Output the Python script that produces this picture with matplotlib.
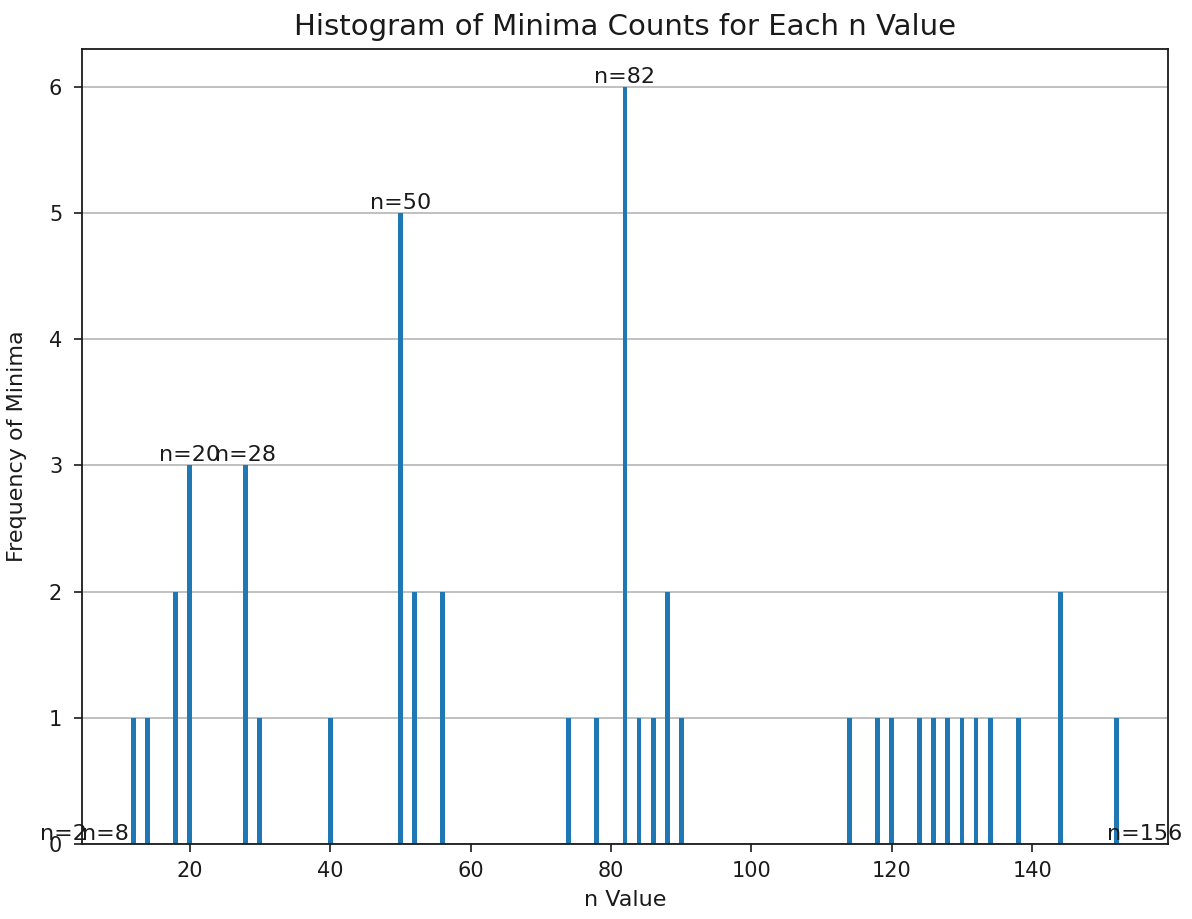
import matplotlib
matplotlib.use("Agg")
import matplotlib.pyplot as plt

# n values at which minima were found, and how many minima each one has
n_values = [12, 14, 18, 20, 28, 30, 40, 50, 52, 56, 74, 78, 82, 84, 86, 88, 90,
            114, 118, 120, 124, 126, 128, 130, 132, 134, 138, 144, 152]
minima_counts = [1, 1, 2, 3, 3, 1, 1, 5, 2, 2, 1, 1, 6, 1, 1, 2, 1,
                 1, 1, 1, 1, 1, 1, 1, 1, 1, 1, 2, 1]

# magic numbers to annotate on the histogram
magic_numbers = [2, 8, 20, 28, 50, 82, 156]

plt.rcParams["font.family"] = ["DejaVu Sans"]

fig = plt.figure(figsize=(11.92, 9.19), dpi=100)
ax = fig.add_axes([0.0685, 0.0816, 0.9116, 0.8651])

ax.bar(n_values, minima_counts, width=0.7, color="#1f77b4", zorder=2)

count_of = dict(zip(n_values, minima_counts))
for n in magic_numbers:
    ax.text(n, count_of.get(n, 0), f"n={n}", ha="center", va="bottom",
            fontsize=16, color="#1a1a1a")

ax.set_title("Histogram of Minima Counts for Each n Value", fontsize=21, pad=10,
             color="#1a1a1a")
ax.set_xlabel("n Value", fontsize=16, color="#1a1a1a", labelpad=7)
ax.set_ylabel("Frequency of Minima", fontsize=16, color="#1a1a1a", labelpad=16)

ax.grid(axis="y", color="#c0c0c0", linewidth=1.4, zorder=0)
ax.set_axisbelow(True)
ax.tick_params(labelsize=15, length=6, width=1.2, colors="#1a1a1a")
ax.tick_params(axis="x", pad=6)
ax.tick_params(axis="y", pad=8)
for s in ax.spines.values():
    s.set_linewidth(1.3)
    s.set_color("#1a1a1a")

fig.savefig("out.png", dpi=100)
